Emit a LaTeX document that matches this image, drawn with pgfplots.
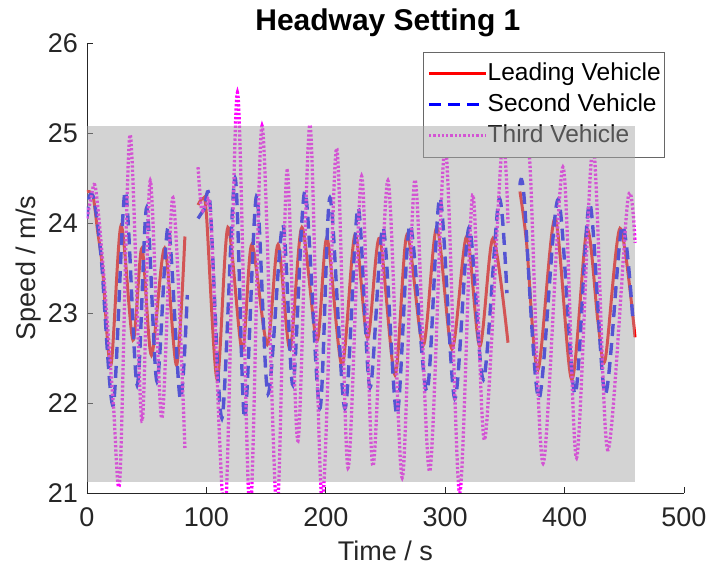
\documentclass[border=0pt]{standalone}
\usepackage{pgfplots}
\pgfplotsset{compat=1.18}
\usepackage{fontspec}
\setmainfont{Liberation Sans}

\definecolor{axgray}{gray}{0.15}
\definecolor{patchgray}{gray}{0.66}
\definecolor{leadred}{rgb}{1,0,0}
\definecolor{secblue}{rgb}{0,0,1}
\definecolor{thirdmag}{rgb}{1,0,1}

\pgfplotsset{
  vehaxis/.style={scale only axis, width=597pt, height=450pt,
    xmin=0, xmax=500, ymin=21, ymax=26, at={(0pt,0pt)}, anchor=south west},
  leadstyle/.style={leadred, line width=3pt, smooth, tension=0.5},
  secstyle/.style={secblue, line width=3.4pt, dash pattern=on 12pt off 7pt, smooth, tension=0.5},
  thirdstyle/.style={thirdmag, line width=3.3pt, dash pattern=on 2.3pt off 2pt, smooth, tension=0.5},
}

\begin{document}
\begin{tikzpicture}
\path[use as bounding box] (-87pt,-80pt) rectangle (626pt,493pt);
\begin{axis}[vehaxis,
  axis lines*=left,
  axis line style={axgray, line width=0.8pt},
  tick style={axgray, line width=0.8pt},
  major tick length=6pt,
  tick align=inside,
  xtick={0,100,...,500}, ytick={21,22,...,26},
  /pgf/number format/assume math mode=true,
  tick label style={font=\fontsize{27}{27}\selectfont, text=axgray},
  xticklabel style={inner sep=0pt, yshift=-14pt},
  yticklabel style={inner sep=0pt, xshift=-9pt},
  xlabel={Time / s}, ylabel={Speed / m/s},
  label style={font=\fontsize{27}{27}\selectfont, text=axgray},
  xlabel style={at={(axis description cs:0.5,-0.106)}, anchor=north, inner sep=0pt},
  ylabel style={at={(axis description cs:-0.098,0.5)}, anchor=center, inner sep=0pt},
  title={Headway Setting 1},
  title style={at={(axis description cs:0.504,1.032)}, anchor=center, inner sep=0pt,
    font=\bfseries\fontsize{30}{30}\selectfont},
  legend cell align=left,
  legend style={at={(axis description cs:0.968,0.98)}, anchor=north east,
    draw=axgray!70, fill=white, font=\fontsize{24.5}{24.5}\selectfont,
    inner xsep=4pt, inner ysep=10pt, row sep=8pt,
    nodes={inner sep=0pt, text height=18pt, text depth=5pt},
    /tikz/every even column/.append style={column sep=3pt}},
  legend image code/.code={\draw[#1] (0pt,0pt) -- (57pt,0pt);},
]
% Leading vehicle
\addplot[leadstyle] coordinates {(0,24.35) (5,24.3) (9,23.9) (13,23.5) (20,22.42) (28.5,23.97) (38.5,22.7) (46,23.72) (54,22.53) (65,23.72) (75,22.42) (82,23.85)};
\addlegendentry{Leading Vehicle}
% Second vehicle
\addplot[secstyle] coordinates {(0,24.05) (2,24.3) (6,24.25) (12,23.6) (22,21.98) (32,24.35) (42,22.2) (50,24.17) (58.6,22.24) (68,23.95) (78,22.05) (84,23.2)};
\addlegendentry{Second Vehicle}
% Third vehicle
\addplot[thirdstyle] coordinates {(0,24.05) (3,24.25) (7,24.4) (13.6,23.5) (22,22.0) (27.6,21.17) (36,24.98) (46,21.8) (53,24.47) (62.6,21.83) (72,24.28) (82,21.5)};
\addlegendentry{Third Vehicle}

\addplot[leadstyle, forget plot] coordinates {(93,24.2) (97,24.27) (100,24.1) (109,22.26) (118,23.95) (130,22.58) (138,23.76) (151,22.65) (160,23.76) (170,22.6) (180,23.95) (192.6,22.69) (201,23.83) (213.6,22.42) (224.5,23.87) (235,22.72) (245,23.83) (258,22.31) (268,23.87) (281.6,22.64) (293,23.95) (305.7,22.6) (318,23.85) (329,22.63) (340,23.83) (352.6,22.67)};
\addplot[leadstyle, forget plot] coordinates {(362.6,24.35) (368,23.8) (377.7,22.37) (392,24.05) (406,22.26) (418.7,23.92) (428,22.9) (434,22.48) (446.4,23.94) (459,22.73)};

\addplot[secstyle, forget plot] coordinates {(93,24.05) (98,24.15) (103,24.22) (113,21.83) (124,24.5) (132,21.83) (142,24.3) (151.6,22.1) (164,23.98) (172.5,22.2) (182.6,24.35) (195,21.94) (203.5,24.28) (216,21.94) (227,24.17) (237,22.17) (248,23.95) (259.6,21.87) (270.5,23.98) (284.7,22.13) (295.6,24.28) (308,22.05) (320,23.95) (332,22.26) (345,24.26) (351.7,23.22)};
\addplot[secstyle, forget plot] coordinates {(362.6,24.42) (366,24.3) (378.5,22.05) (394.5,24.26) (408.7,22.1) (421,24.22) (434,22.1) (448,23.96) (457,22.96)};

\addplot[thirdstyle, forget plot] coordinates {(93,24.62) (96,24.15) (100,24.2) (104,24.0) (115.6,20.75) (126,25.45) (136.5,20.75) (146.6,25.08) (159,20.8) (167.5,24.58) (176.7,21.58) (186.8,25.09) (197,20.9) (209,24.83) (218.6,21.28) (230,24.52) (239.5,21.3) (252,24.47) (264,21.17) (274.7,24.48) (287,21.24) (300,24.85) (312,21.0) (323,24.31) (333,21.59) (347.5,24.85) (352.6,24.0)};
\addplot[thirdstyle, forget plot] coordinates {(365,25.2) (371,24.65) (382,21.33) (398.6,24.62) (410,21.39) (423.8,24.85) (436,21.48) (453,24.26) (459,23.78)};
\end{axis}

% translucent band laid over the traces and the legend
\begin{axis}[vehaxis, hide axis]
\addplot[draw=none, fill=patchgray, fill opacity=0.5] coordinates {(0,21.12) (459,21.12) (459,25.08) (0,25.08)} -- cycle;
\end{axis}
\end{tikzpicture}
\end{document}
